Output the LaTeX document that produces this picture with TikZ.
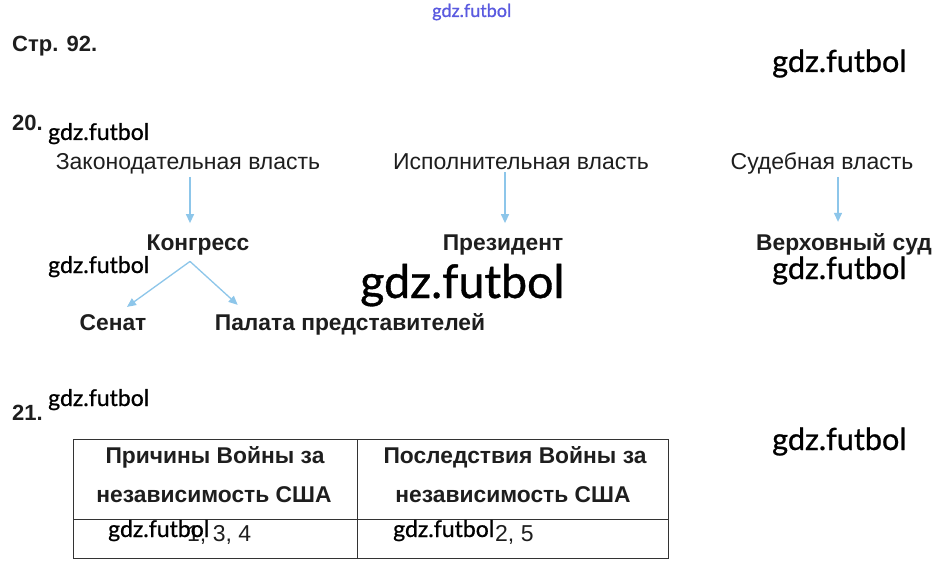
\documentclass[tikz,border=0pt]{standalone}
\usepackage{fontspec}
\setmainfont{Liberation Sans}
\newfontfamily\wmfont{Lato}[FakeBold=0.8]
\usetikzlibrary{arrows.meta}
\definecolor{arrowblue}{HTML}{8DC6EA}
\definecolor{txt}{HTML}{1E1E1E}
\definecolor{wmblue}{HTML}{5A5AE0}
\definecolor{rule}{HTML}{333333}
\tikzset{
  lab/.style={inner sep=0pt, anchor=base, text=txt, font=\fontsize{23}{27}\selectfont},
  blab/.style={inner sep=0pt, anchor=base, text=txt, font=\fontsize{22.8}{27}\selectfont\bfseries},
  num/.style={inner sep=0pt, anchor=base west, text=txt, font=\fontsize{22}{26}\selectfont\bfseries},
  cell/.style={inner sep=0pt, anchor=base, text=txt, font=\fontsize{22.8}{27}\selectfont\bfseries},
  val/.style={inner sep=0pt, anchor=base west, text=txt, font=\fontsize{23}{27}\selectfont},
  wm/.style={inner sep=0pt, anchor=base west, text=black, font=\wmfont\fontsize{#1}{#1}\selectfont},
  arr/.style={draw=arrowblue, line width=1.3pt, -{Triangle[width=8pt,length=9pt]}},
  tline/.style={draw=rule, line width=0.9pt}
}
\begin{document}
\begin{tikzpicture}[x=1pt,y=-1pt]
\useasboundingbox[fill=white] (0,0) rectangle (942,572);
% header
\node[wm=18, text=wmblue] (wm0) at (432,17) {gdz.futbol};
\node[num] (page) at (12,52) {Стр. 92.};
\node[wm=30.6] (wm1) at (772,72) {gdz.futbol};
% task 20
\node[num] (n20) at (12,131) {20.};
\node[wm=23] (wm2) at (48,140) {gdz.futbol};
\node[lab] (zak) at (188,170) {Законодательная власть};
\node[lab] (isp) at (521,170) {Исполнительная власть};
\node[lab] (sud) at (822,170) {Судебная власть};
\node[blab] (kon) at (198,250) {Конгресс};
\node[blab] (pre) at (503,250) {Президент};
\node[blab] (ver) at (844,250) {Верховный суд};
\node[wm=23] (wm3) at (48,273) {gdz.futbol};
\node[wm=46.5] (wm4) at (360,298) {gdz.futbol};
\node[wm=30.6] (wm5) at (772,279) {gdz.futbol};
\node[blab] (sen) at (113,330) {Сенат};
\node[blab] (pal) at (350,330) {Палата представителей};
\draw[arr, shorten >=11pt] ([xshift=2pt,yshift=-2pt]zak.south) -- ([xshift=2pt]zak.south |- kon.north);
\draw[arr, shorten >=11pt] ([xshift=-16pt,yshift=-2pt]isp.south) -- ([xshift=-16pt]isp.south |- pre.north);
\draw[arr, shorten >=11pt] ([xshift=16pt,yshift=-2pt]sud.south) -- ([xshift=16pt]sud.south |- ver.north);
\draw[arr] ([xshift=-8pt,yshift=-6.5pt]kon.south) -- ([xshift=14pt,yshift=7pt]sen.north);
\draw[arr] ([xshift=-8pt,yshift=-6.5pt]kon.south) -- ([xshift=23pt,yshift=8pt]pal.north west);
% task 21
\node[num] (n21) at (12,420) {21.};
\node[wm=23] (wm6) at (48,406) {gdz.futbol};
\node[wm=30.6] (wm7) at (772,450) {gdz.futbol};
\draw[tline] (73,439) rectangle (668,558);
\draw[tline] (73,519) -- (668,519);
\draw[tline] (357.5,439) -- (357.5,558);
\node[cell] (c1a) at (215,463) {Причины Войны за};
\node[cell] (c1b) at (214,502) {независимость США};
\node[cell] (c2a) at (515,463) {Последствия Войны за};
\node[cell] (c2b) at (513,502) {независимость США};
\node[val] (v1) at (187,541) {1, 3, 4};
\node[val] (v2) at (495,541) {2, 5};
\node[wm=23] (wm8) at (108,537) {gdz.futbol};
\node[wm=23] (wm9) at (393,537) {gdz.futbol};
\end{tikzpicture}
\end{document}
